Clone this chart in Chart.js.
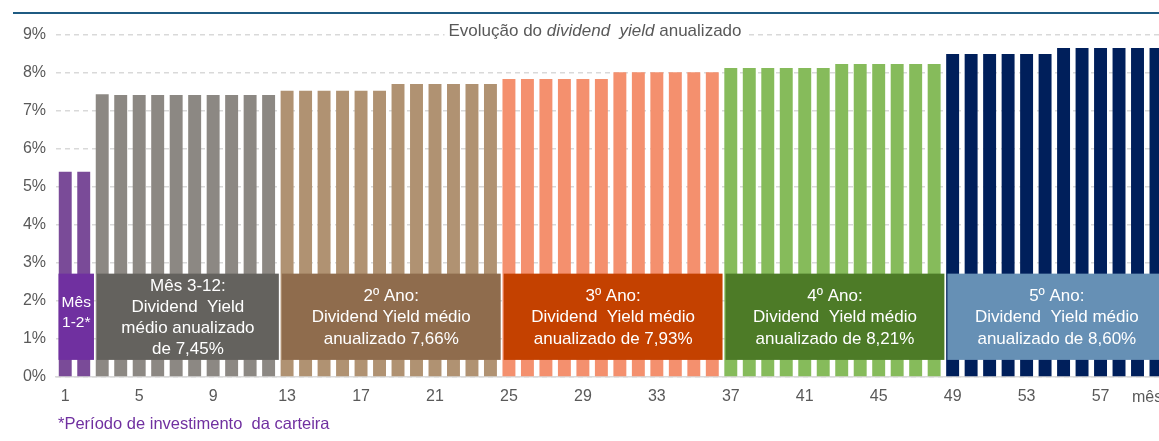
<!DOCTYPE html>
<html>
<head>
<meta charset="utf-8">
<script src="https://cdn.jsdelivr.net/npm/chart.js@4.4.0/dist/chart.umd.min.js"></script>
<style>
    body { margin: 0; width: 1159px; height: 441px; overflow: hidden; background: #fff; font-family: 'Liberation Sans', Arial, sans-serif; }
    #topline { position: absolute; left: 13px; top: 12px; width: 1146px; height: 2px; background: #1F5B82; }
    #wrap { position: absolute; left: 0; top: 0; }
    #note { position: absolute; left: 58px; top: 414px; color: #7030A0; font-size: 16.5px; }
</style>
</head>
<body>
<div id="topline"></div>
<div id="wrap"><canvas id="dyChart" width="1166" height="441"></canvas></div>
<div id="note">*Período de investimento&nbsp; da carteira</div>
<script>
// dividend yield chart

const months = ['1','2','3','4','5','6','7','8','9','10','11','12','13','14','15','16','17','18','19','20',
    '21','22','23','24','25','26','27','28','29','30','31','32','33','34','35','36','37','38','39','40',
    '41','42','43','44','45','46','47','48','49','50','51','52','53','54','55','56','57','58','59','60'];

const dividendYield = [
    5.40, 5.40,
    7.44, 7.42, 7.42, 7.42, 7.42, 7.42, 7.42, 7.42, 7.42, 7.42,
    7.53, 7.53, 7.53, 7.53, 7.53, 7.53, 7.71, 7.71, 7.71, 7.71, 7.71, 7.71,
    7.84, 7.84, 7.84, 7.84, 7.84, 7.84, 8.02, 8.02, 8.02, 8.02, 8.02, 8.02,
    8.13, 8.13, 8.13, 8.13, 8.13, 8.13, 8.24, 8.24, 8.24, 8.24, 8.24, 8.24,
    8.50, 8.50, 8.50, 8.50, 8.50, 8.50, 8.66, 8.66, 8.66, 8.66, 8.66, 8.66
];

const yTicks = [0, 1, 2, 3, 4, 5, 6, 7, 8, 9];

// periods (first month, last month)
const periodRanges = [[1, 2], [3, 12], [13, 24], [25, 36], [37, 48], [49, 60]];
const periodTexts = [
    ['Mês', '1-2*'],
    ['Mês 3-12:', 'Dividend  Yield', 'médio anualizado', 'de 7,45%'],
    ['2º Ano:', 'Dividend Yield médio', 'anualizado 7,66%'],
    ['3º Ano:', 'Dividend  Yield médio', 'anualizado de 7,93%'],
    ['4º Ano:', 'Dividend  Yield médio', 'anualizado de 8,21%'],
    ['5º Ano:', 'Dividend  Yield médio', 'anualizado de 8,60%']
];
const periodBarColors = ['#7A4B98', '#8C8883', '#B09272', '#F4906E', '#86BB5B', '#001F5B'];
const periodBoxColors = ['#7030A0', '#64625E', '#8F6C4D', '#C44100', '#4D7B27', '#6690B5'];

const titleParts = [['Evolução do ', false], ['dividend  yield', true], [' anualizado', false]];
const axisUnit = 'mês';

const barColors = months.map((m, i) => {
    const p = periodRanges.findIndex(r => i + 1 >= r[0] && i + 1 <= r[1]);
    return periodBarColors[p];
});

const FONT = "'Liberation Sans', Arial, sans-serif";
Chart.defaults.font.family = FONT;
Chart.defaults.color = '#595959';

const overlayPlugin = {
    id: 'overlay',
    afterDatasetsDraw(chart) {
        const ctx = chart.ctx;
        const x = chart.scales.x, y = chart.scales.y;
        const half = (x.getPixelForValue(1) - x.getPixelForValue(0)) / 2;
        const top = y.getPixelForValue(2.72);
        const bottom = y.getPixelForValue(0.45);
        ctx.save();

        // period boxes
        ctx.textAlign = 'center';
        ctx.textBaseline = 'middle';
        periodRanges.forEach((r, i) => {
            const left = x.getPixelForValue(r[0] - 1) - half + (i === 0 ? 2.5 : 4);
            const right = x.getPixelForValue(r[1] - 1) + half + 1;
            ctx.fillStyle = periodBoxColors[i];
            ctx.fillRect(left, top, right - left, bottom - top);
            const lines = periodTexts[i];
            const cx = (left + right) / 2;
            const cy = (top + bottom) / 2 + (i === 0 ? -4 : 1);
            ctx.font = (i === 0 ? '15.5px ' : '17px ') + FONT;
            ctx.fillStyle = '#ffffff';
            lines.forEach((t, k) => {
                ctx.fillText(t, cx, cy + (k - (lines.length - 1) / 2) * (i === 0 ? 20 : 21.3));
            });
        });

        // title with white backdrop
        let total = 0;
        const widths = titleParts.map(p => {
            ctx.font = (p[1] ? 'italic ' : '') + '17px ' + FONT;
            const w = ctx.measureText(p[0]).width;
            total += w;
            return w;
        });
        let tx = 595 - total / 2;
        const ty = 31;
        ctx.fillStyle = '#ffffff';
        ctx.fillRect(tx - 4, ty - 11, total + 8, 22);
        ctx.fillStyle = '#595959';
        ctx.textAlign = 'left';
        titleParts.forEach((p, i) => {
            ctx.font = (p[1] ? 'italic ' : '') + '17px ' + FONT;
            ctx.fillText(p[0], tx, ty);
            tx += widths[i];
        });

        // axis unit at the right end
        ctx.font = '16px ' + FONT;
        ctx.fillStyle = '#595959';
        ctx.fillText(axisUnit, 1132, 398);
        ctx.restore();
    }
};

const ctx = document.getElementById('dyChart');
new Chart(ctx, {
    type: 'bar',
    data: {
        labels: months,
        datasets: [{
            data: dividendYield,
            backgroundColor: barColors,
            borderWidth: 0,
            barPercentage: 0.7,
            categoryPercentage: 1
        }]
    },
    options: {
        responsive: false,
        animation: false,
        devicePixelRatio: 1,
        layout: { padding: { top: 35, left: 0, right: 0, bottom: 0 } },
        plugins: {
            legend: { display: false },
            tooltip: { enabled: false }
        },
        scales: {
            x: {
                grid: { display: false, drawTicks: false },
                border: { display: true, color: '#D9D9D9', width: 1.5 },
                ticks: {
                    autoSkip: false,
                    maxRotation: 0,
                    padding: 10,
                    font: { size: 16 },
                    color: '#595959',
                    callback: function(v, i) { return i % 4 === 0 ? months[i] : ''; }
                },
                afterFit: function(scale) { scale.height = 64; }
            },
            y: {
                min: yTicks[0],
                max: yTicks[yTicks.length - 1],
                afterBuildTicks: function(scale) { scale.ticks = yTicks.map(v => ({ value: v })); },
                grid: { color: '#D9D9D9', lineWidth: 1.5, drawTicks: false },
                border: { display: false, dash: [5, 4] },
                ticks: {
                    padding: 10,
                    font: { size: 16 },
                    color: '#595959',
                    callback: v => v + '%'
                },
                afterFit: function(scale) { scale.width = 56; }
            }
        }
    },
    plugins: [overlayPlugin]
});
</script>
</body>
</html>
